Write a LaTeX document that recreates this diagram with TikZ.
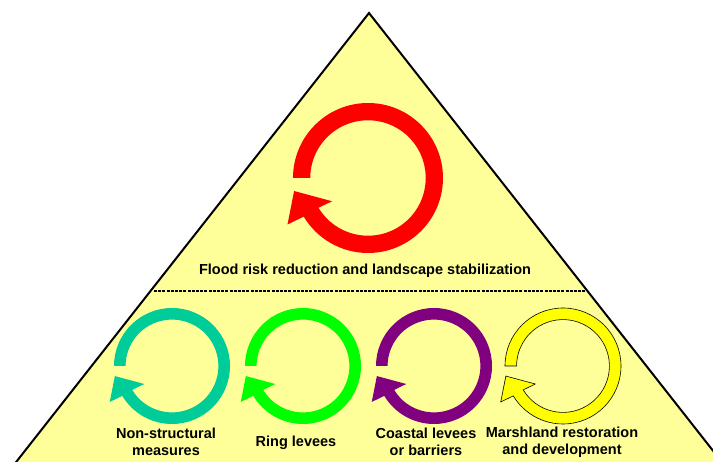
\documentclass[tikz,border=0pt]{standalone}
\usepackage{fontspec}
\setmainfont{Liberation Sans}
\definecolor{trifill}{HTML}{FFFF99}
\definecolor{cred}{HTML}{FF0000}
\definecolor{cteal}{HTML}{00CC99}
\definecolor{cgreen}{HTML}{00FF00}
\definecolor{cpurple}{HTML}{800080}
\definecolor{cyellow}{HTML}{FFFF00}
% #1 cx, #2 cy (pixels, y down), #3 outer radius, #4 inner ratio, #5 style
\newcommand{\circarrow}[5]{%
  \begin{scope}[shift={(#1pt,-#2pt)}, scale=#3]
    \path[#5] (180:1pt) arc[start angle=180, end angle=-149, radius=1pt]
      -- (-150:1.24pt) -- (-170:1.0pt) -- (-147:0.57pt)
      -- (-149:#4pt) arc[start angle=-149, end angle=180, radius=#4pt] -- cycle;
  \end{scope}}
\tikzset{
  lbl/.style={font=\bfseries\fontsize{14.5}{17}\selectfont, align=center, inner sep=0pt, text=black},
  tri/.style={fill=trifill, draw=black, line width=2pt, line join=miter},
  sep/.style={draw=black, line width=1.8pt, dash pattern=on 3pt off 1.2pt}
}
\begin{document}
\begin{tikzpicture}[x=1pt,y=-1pt]
\useasboundingbox (0,0) rectangle (713,462);
\begin{scope}
  \clip (0,0) rectangle (713,462);
  \path[tri] (369,13) -- (-20,508) -- (758,508) -- cycle;
\end{scope}
\coordinate (dl) at (154,291);
\coordinate (dr) at (585,291);
\draw[sep] (dl) -- (dr);
\circarrow{368}{178}{75}{0.77}{fill=cred}
\circarrow{172}{366}{58}{0.80}{fill=cteal}
\circarrow{303}{366}{58}{0.80}{fill=cgreen}
\circarrow{434}{366}{58}{0.80}{fill=cpurple}
\circarrow{563}{366}{58}{0.80}{fill=cyellow, draw=black, line width=0.6pt}
\node[lbl, anchor=base] (main) at (365,275) {Flood risk reduction and landscape stabilization};
\node[lbl] (ns) at (166,442) {Non-structural\\measures};
\node[lbl, anchor=base] (rl) at (296,447) {Ring levees};
\node[lbl] (cl) at (426,442) {Coastal levees\\or barriers};
\node[lbl] (mr) at (562,442) {Marshland restoration\\and development};
\end{tikzpicture}
\end{document}
